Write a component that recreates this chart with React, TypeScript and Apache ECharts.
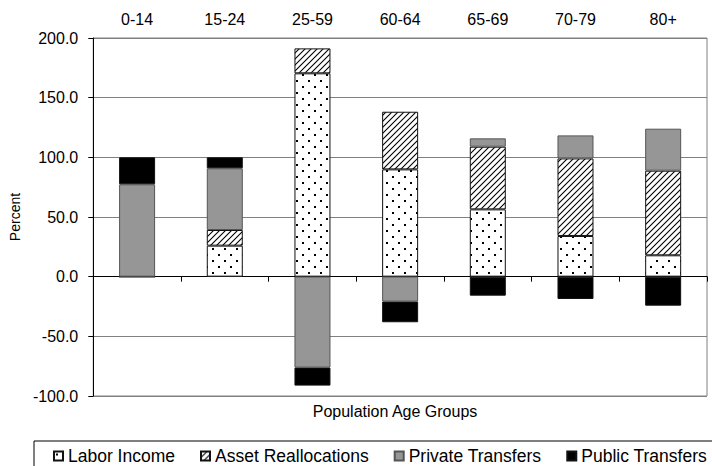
import React, { useEffect, useRef } from "react";
import * as echarts from "echarts";

const categories = ["0-14", "15-24", "25-59", "60-64", "65-69", "70-79", "80+"];
const laborIncome = [0, 26.0, 170.4, 89.9, 56.4, 34.1, 17.9];
const assetReallocations = [0, 13.1, 20.9, 48.3, 52.5, 65.0, 70.9];
const privateTransfers = [77.4, 51.7, -76.2, -20.9, 7.0, 19.3, 35.2];
const publicTransfers = [22.6, 9.2, -15.1, -17.3, -15.9, -18.7, -24.3];
const seriesNames = ["Labor Income", "Asset Reallocations", "Private Transfers", "Public Transfers"];

const FONT = "'Liberation Sans', Arial, sans-serif";

function dotPattern() {
  const c = document.createElement("canvas");
  c.width = 12;
  c.height = 12;
  const ctx = c.getContext("2d")!;
  ctx.fillStyle = "#fff";
  ctx.fillRect(0, 0, 12, 12);
  ctx.fillStyle = "#000";
  ctx.fillRect(2, 2, 2, 2);
  ctx.fillRect(8, 8, 2, 2);
  return { image: c, repeat: "repeat", imageWidth: 12, imageHeight: 12 } as any;
}

function hatchPattern() {
  const s = 6;
  const c = document.createElement("canvas");
  c.width = s;
  c.height = s;
  const ctx = c.getContext("2d")!;
  ctx.fillStyle = "#fff";
  ctx.fillRect(0, 0, s, s);
  ctx.strokeStyle = "#000";
  ctx.lineWidth = 1.1;
  ctx.beginPath();
  ctx.moveTo(0, s);
  ctx.lineTo(s, 0);
  ctx.moveTo(-1, 1);
  ctx.lineTo(1, -1);
  ctx.moveTo(s - 1, s + 1);
  ctx.lineTo(s + 1, s - 1);
  ctx.stroke();
  return { image: c, repeat: "repeat", imageWidth: s, imageHeight: s } as any;
}

export default function App() {
  const ref = useRef<HTMLDivElement>(null);
  useEffect(() => {
    if (!ref.current) return;
    const chart = echarts.init(ref.current, null, { renderer: "svg" });
    const fills = [dotPattern(), hatchPattern(), "#969696", "#000000"];
    const datas = [laborIncome, assetReallocations, privateTransfers, publicTransfers];
    chart.setOption({
      animation: false,
      backgroundColor: "#fff",
      textStyle: { fontFamily: FONT },
      grid: {
        left: 83,
        right: 5,
        top: 38,
        bottom: 70,
        show: true,
        borderColor: "#808080",
        borderWidth: 1,
        backgroundColor: "transparent",
      },
      legend: {
        left: 34,
        top: 441,
        width: 700,
        orient: "horizontal",
        padding: [6, 10, 8, 19],
        itemGap: 25,
        itemWidth: 9,
        itemHeight: 9,
        borderColor: "#000",
        borderWidth: 1,
        icon: "rect",
        textStyle: { fontFamily: FONT, fontSize: 17.5, color: "#000" },
        data: seriesNames,
      },
      xAxis: [
        {
          type: "category",
          data: categories,
          position: "bottom",
          axisLine: { onZero: true, lineStyle: { color: "#000", width: 1 } },
          axisTick: { show: true, length: 5, inside: false, lineStyle: { color: "#000" } },
          axisLabel: { show: false },
          splitLine: { show: false },
        },
        {
          type: "category",
          data: categories,
          position: "top",
          axisLine: { show: false },
          axisTick: { show: false },
          axisLabel: { show: true, margin: 11, fontFamily: FONT, fontSize: 16, color: "#000" },
          splitLine: { show: false },
        },
      ],
      yAxis: {
        type: "value",
        min: -100,
        max: 200,
        interval: 50,
        name: "Percent",
        nameLocation: "middle",
        nameGap: 57,
        nameTextStyle: { fontFamily: FONT, fontSize: 14, color: "#000" },
        axisLine: { show: true, lineStyle: { color: "#000", width: 1 } },
        axisTick: { show: true, length: 5, lineStyle: { color: "#000" } },
        axisLabel: {
          margin: 15,
          fontFamily: FONT,
          fontSize: 16,
          color: "#000",
          formatter: (v: number) => v.toFixed(1),
        },
        splitLine: { show: true, lineStyle: { color: "#808080", width: 1 } },
      },
      graphic: [
        {
          type: "text",
          x: 395,
          y: 411,
          style: {
            text: "Population Age Groups",
            fontFamily: FONT,
            fontSize: 16,
            fill: "#000",
            align: "center",
            verticalAlign: "middle",
          },
        },
      ],
      series: seriesNames.map((name, i) => ({
        name,
        type: "bar",
        stack: "total",
        xAxisIndex: 0,
        barWidth: 36,
        data: datas[i],
        itemStyle: {
          color: fills[i],
          borderColor: i === 2 ? "#555" : "#111",
          borderWidth: 1,
        },
        emphasis: { disabled: true },
      })),
    });
    return () => chart.dispose();
  }, []);
  return <div ref={ref} style={{ width: 712, height: 466, position: "absolute", left: 0, top: 0 }} />;
}
